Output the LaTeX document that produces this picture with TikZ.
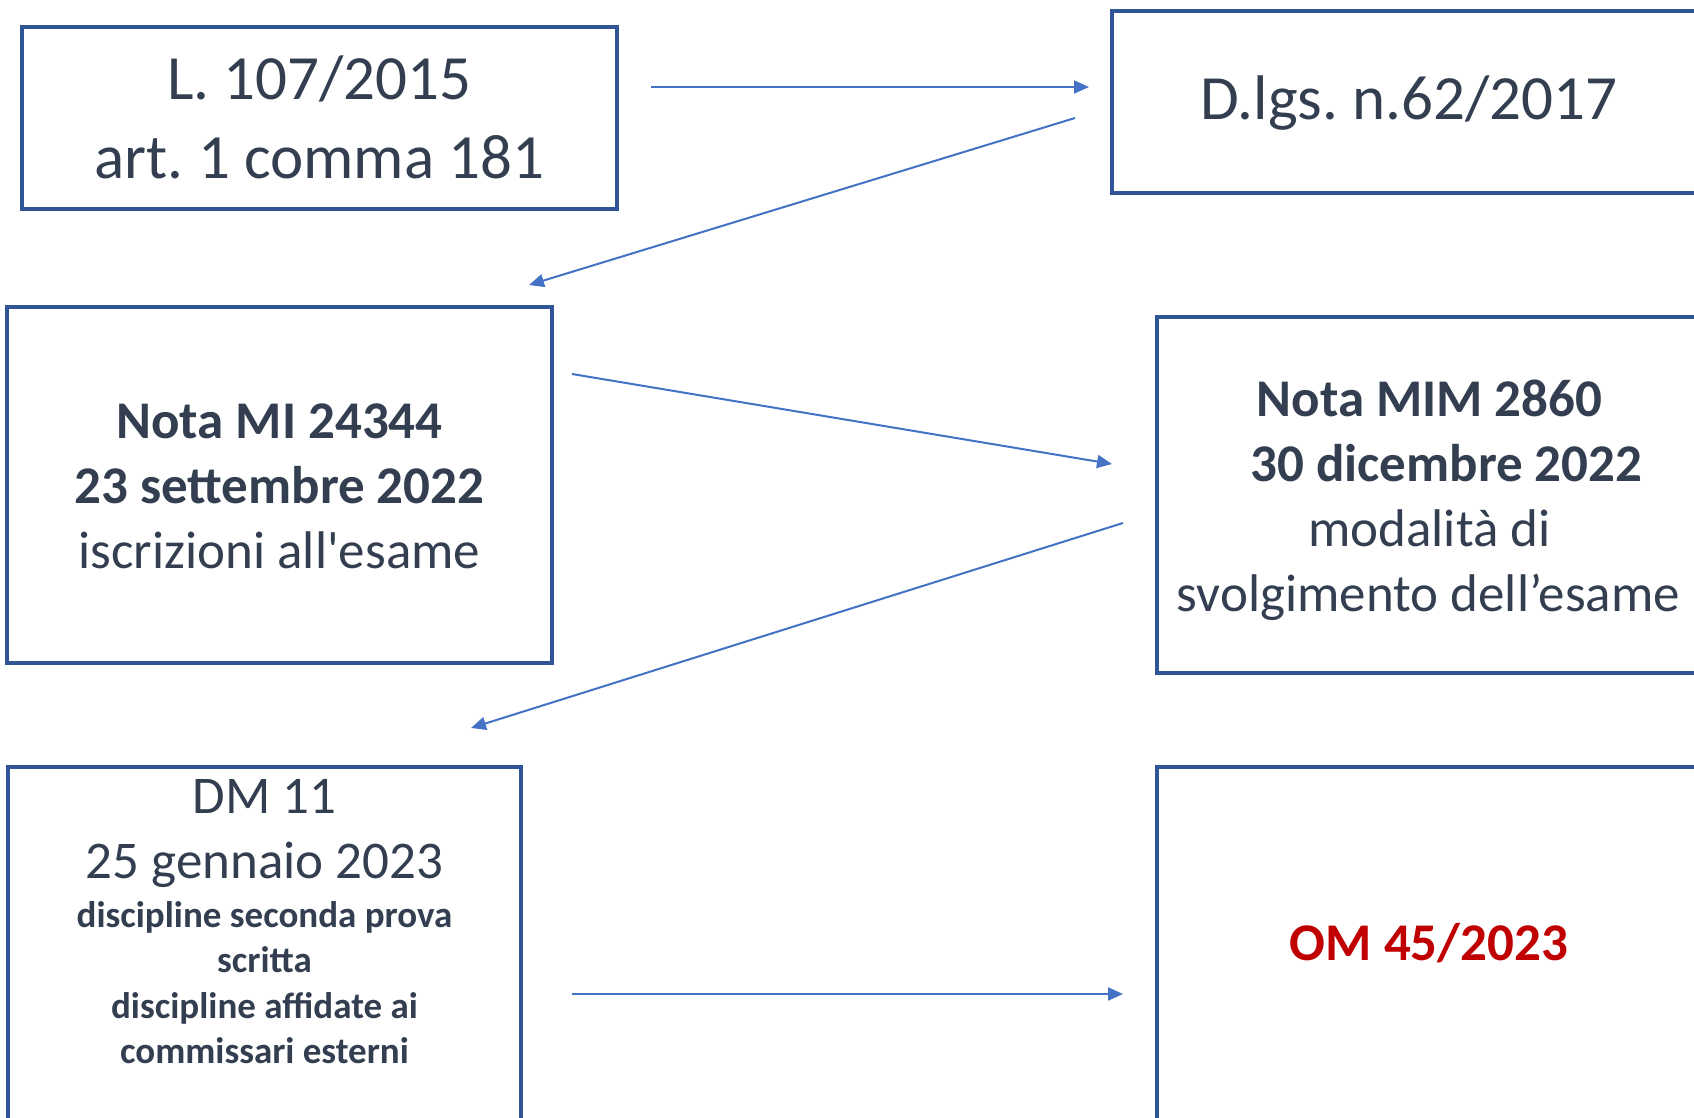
\documentclass[tikz,border=0pt]{standalone}
\usepackage{fontspec}
\setmainfont{Carlito}
\newfontfamily\carlito{Carlito}
\usetikzlibrary{arrows.meta}
\definecolor{txt}{HTML}{333F50}
\definecolor{boxc}{HTML}{2F5597}
\definecolor{arrc}{HTML}{4472C4}
\definecolor{redc}{HTML}{C00000}
\begin{document}
\begin{tikzpicture}[x=1pt,y=-1pt,
  box/.style={draw=boxc, line width=3.3pt, rectangle, inner sep=0pt, outer sep=0pt, anchor=north west},
  big/.style={anchor=base, inner sep=0pt, text=txt, font=\carlito\frenchspacing\fontsize{63}{79}\selectfont},
  mid/.style={anchor=base, inner sep=0pt, text=txt, font=\carlito\frenchspacing\fontsize{53}{65}\selectfont},
  midb/.style={anchor=base, inner sep=0pt, text=txt, font=\carlito\frenchspacing\fontsize{53}{65}\selectfont\bfseries},
  smb/.style={anchor=base, inner sep=0pt, text=txt, font=\carlito\frenchspacing\fontsize{37}{45}\selectfont\bfseries},
  conn/.style={draw=arrc, line width=2pt, -{Triangle[length=15pt,width=13pt]}}]
\useasboundingbox (0,0) rectangle (1694,1118);
\clip (0,0) rectangle (1694,1118);
% boxes
\node[box, minimum width=595pt, minimum height=182pt] (b1) at (22,27) {};
\node[box, minimum width=594pt, minimum height=182pt] (b2) at (1112,11) {};
\node[box, minimum width=545pt, minimum height=356pt] (b3) at (7,307) {};
\node[box, minimum width=544pt, minimum height=356pt] (b4) at (1157,317) {};
\node[box, minimum width=513pt, minimum height=370pt] (b5) at (8,767) {};
\node[box, minimum width=544pt, minimum height=370pt] (b6) at (1157,767) {};
% texts
\node[big] (t1a) at (319.5,100) {L. 107/2015};
\node[big] (t1b) at (319.5,179) {art. 1 comma 181};
\node[big] (t2a) at (1409,120) {D.lgs. n.62/2017};
\node[midb] (t3a) at (279.5,438) {Nota MI 24344};
\node[midb] (t3b) at (279.5,503) {23 settembre 2022};
\node[mid] (t3c) at (279.5,568) {iscrizioni all'esame};
\node[midb] (t4a) at (1429.5,416) {Nota MIM 2860};
\node[midb] (t4b) at (1446.5,481) {30 dicembre 2022};
\node[mid] (t4c) at (1429.5,546) {modalità di};
\node[mid] (t4d) at (1428.5,611) {svolgimento dell’esame};
\node[mid] (t5a) at (264.5,813) {DM 11};
\node[mid] (t5b) at (264.5,878) {25 gennaio 2023};
\node[smb] (t5c) at (264.5,927) {discipline seconda prova};
\node[smb] (t5d) at (264.5,972) {scritta};
\node[smb] (t5e) at (264.5,1018) {discipline affidate ai};
\node[smb] (t5f) at (264.5,1063) {commissari esterni};
\node[midb, text=redc] (t6a) at (1429,960) {OM 45/2023};
% connector end points
\coordinate (a1s) at (651,87);   \coordinate (a1e) at (1089,87);
\coordinate (a2s) at (1075,118); \coordinate (a2e) at (529,285);
\coordinate (a3s) at (572,374);  \coordinate (a3e) at (1112,464);
\coordinate (a4s) at (1123,523); \coordinate (a4e) at (471,728);
\coordinate (a5s) at (572,994);  \coordinate (a5e) at (1123,994);
\draw[conn] (a1s) -- (a1e);
\draw[conn] (a2s) -- (a2e);
\draw[conn] (a3s) -- (a3e);
\draw[conn] (a4s) -- (a4e);
\draw[conn] (a5s) -- (a5e);
\end{tikzpicture}
\end{document}
